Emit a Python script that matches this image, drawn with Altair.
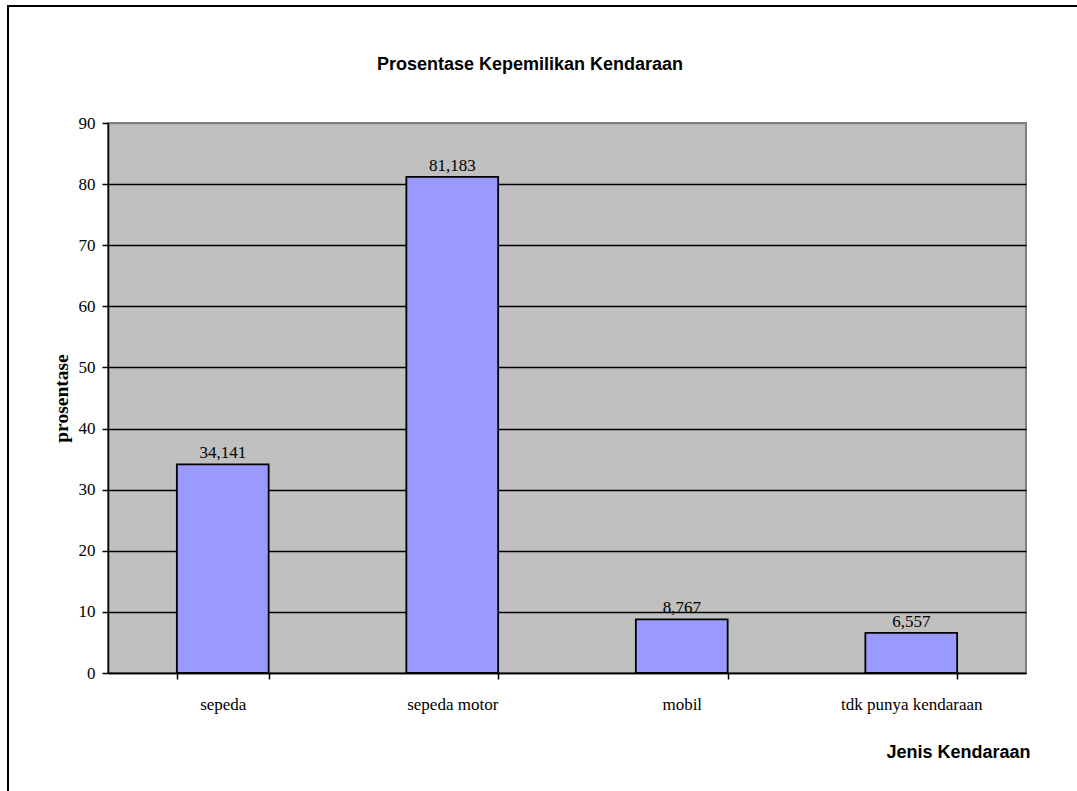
import altair as alt
import pandas as pd

# Vehicle ownership shares (percent)
categories = ["sepeda", "sepeda motor", "mobil", "tdk punya kendaraan"]
values = [34.141, 81.183, 8.767, 6.557]
y_ticks = [0, 10, 20, 30, 40, 50, 60, 70, 80, 90]

df = pd.DataFrame({"jenis": categories, "prosentase": values})
# Indonesian style decimal comma for the value labels
df["label"] = df["prosentase"].map(lambda v: f"{v:.3f}".replace(".", ","))

SERIF = "Liberation Serif"
SANS = "Liberation Sans"

W, H = 918, 550
PAD = {"left": 108, "top": 123, "right": 1077 - 108 - W, "bottom": 791 - 123 - H}

x_enc = alt.X(
    "jenis:N",
    sort=categories,
    scale=alt.Scale(paddingInner=0.6, paddingOuter=0.3),
    axis=alt.Axis(
        title="Jenis Kendaraan",
        labelAngle=0,
        labelFont=SERIF,
        labelFontSize=17,
        labelColor="black",
        labelPadding=17,
        tickBand="extent",
        tickSize=6,
        tickColor="black",
        tickWidth=1.5,
        domainColor="black",
        domainWidth=1.5,
        grid=False,
        titleFont=SANS,
        titleFontSize=18,
        titleFontWeight="bold",
        titleColor="black",
        titleAnchor="end",
        titleAlign="right",
        titleBaseline="alphabetic",
        titleX=W + 4,
        titleY=84,
    ),
)

y_enc = alt.Y(
    "prosentase:Q",
    scale=alt.Scale(domain=[0, 90], nice=False, zero=True),
    axis=alt.Axis(
        title="prosentase",
        values=y_ticks,
        labelFont=SERIF,
        labelFontSize=17,
        labelColor="black",
        labelPadding=7,
        tickSize=6,
        tickColor="black",
        tickWidth=1.5,
        domainColor="black",
        domainWidth=1.5,
        grid=True,
        gridColor={"condition": {"test": "datum.value === 90", "value": "#808080"}, "value": "#000000"},
        gridWidth=1.5,
        titleFont=SERIF,
        titleFontSize=19.5,
        titleFontWeight="bold",
        titleColor="black",
        titleAngle=270,
        titleAlign="center",
        titleBaseline="middle",
        titleX=-47,
        titleY=H / 2,
    ),
)

bars = alt.Chart(df).mark_bar(
    color="#9999FF", stroke="black", strokeWidth=1.8
).encode(x=x_enc, y=y_enc)

labels = alt.Chart(df).mark_text(
    font=SERIF, fontSize=17, color="black", baseline="alphabetic", dy=-6
).encode(x=alt.X("jenis:N", sort=categories), y="prosentase:Q", text="label:N")

# Chart-area border (top and left edges)
frame_src = pd.DataFrame({"k": [0]})
frame_left = alt.Chart(frame_src).mark_rule(color="black", strokeWidth=2, clip=False).encode(
    x=alt.value(-100), y=alt.value(-117), y2=alt.value(H + 200)
)
frame_top = alt.Chart(frame_src).mark_rule(color="black", strokeWidth=2, clip=False).encode(
    x=alt.value(-101), x2=alt.value(W + 200), y=alt.value(-117)
)

chart = (
    alt.layer(bars, labels, frame_left, frame_top)
    .properties(
        width=W,
        height=H,
        padding=PAD,
        autosize=alt.AutoSizeParams(type="none"),
        background="white",
        title=alt.TitleParams(
            "Prosentase Kepemilikan Kendaraan",
            font=SANS,
            fontSize=18,
            fontWeight="bold",
            color="black",
            anchor="middle",
            frame="group",
            dx=-37,
            baseline="alphabetic",
            offset=0,
            dy=83,
        ),
    )
    .configure_view(fill="#C0C0C0", stroke="#808080", strokeWidth=2)
)

chart.save("out.html", embed_options={"renderer": "svg", "actions": False})
